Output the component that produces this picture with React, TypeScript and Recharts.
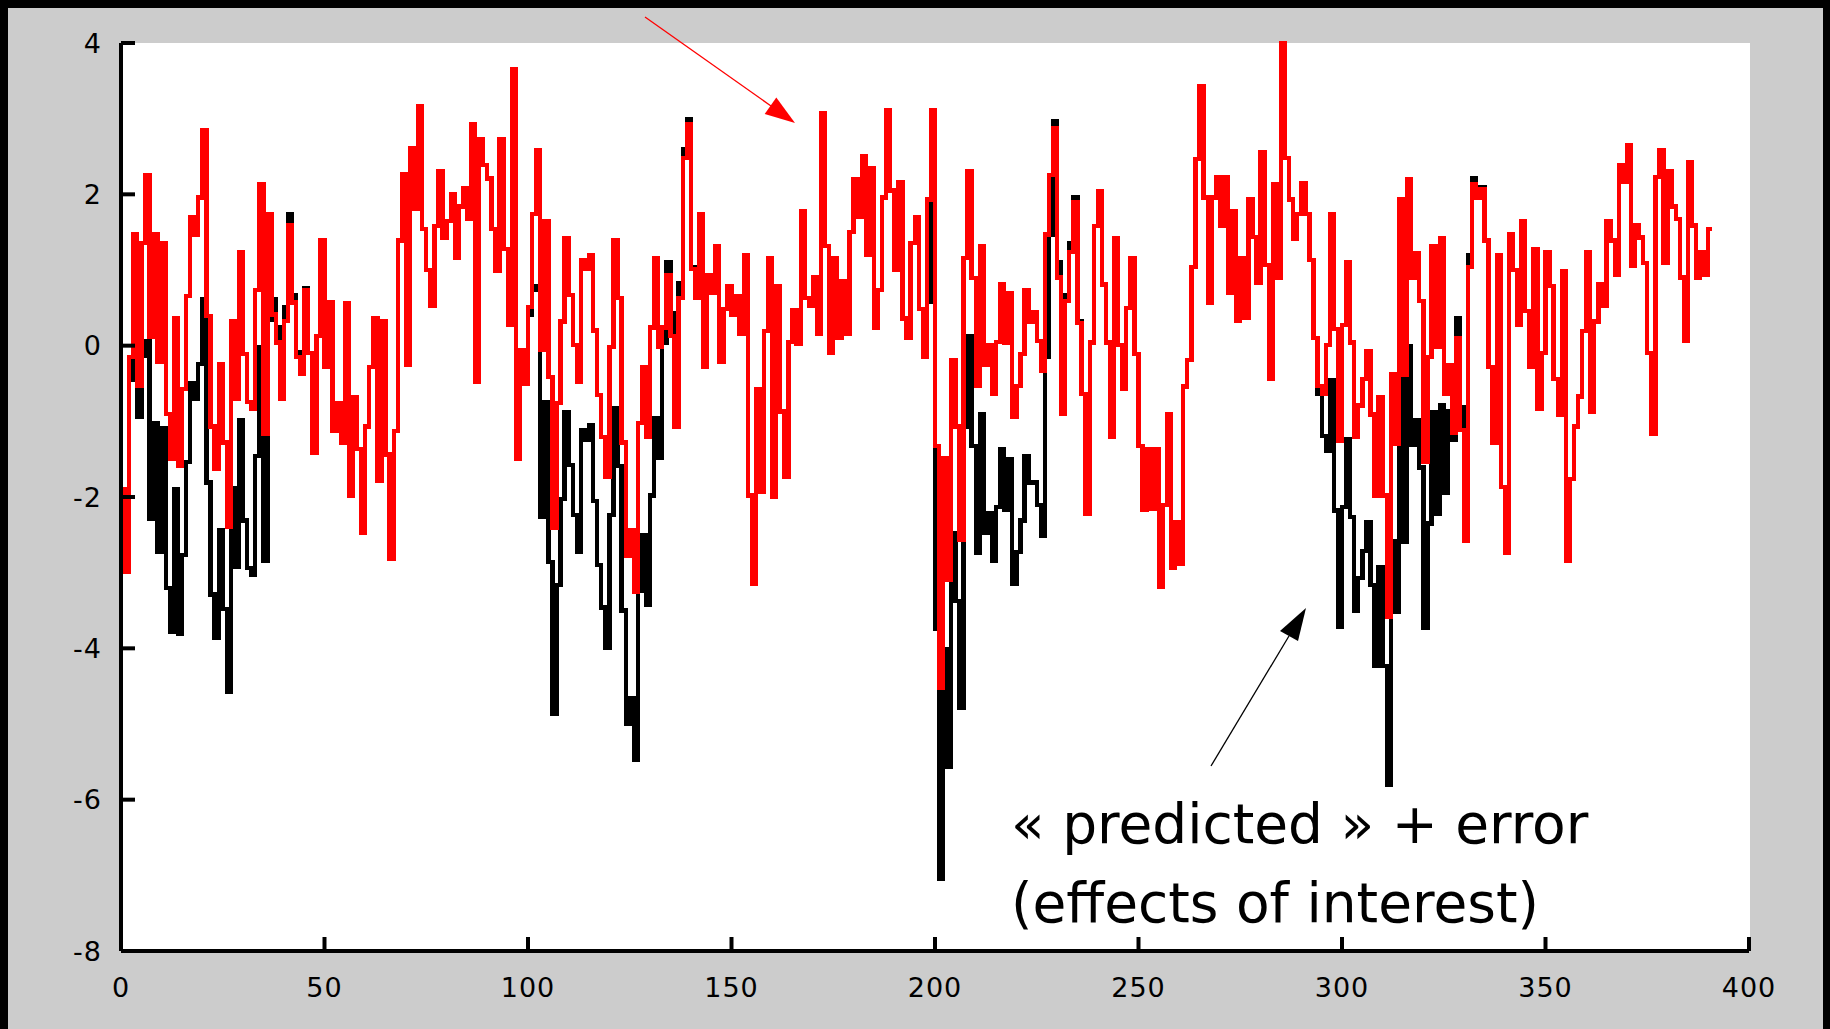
import React from "react";
import { LineChart, Line, XAxis, YAxis } from "recharts";

// Signal after removing effects of no interest (drawn in red), one value per scan.
const fitted: number[] = [
  -0.83, -1.89, -2.99, -0.15, 1.47, -0.53, 1.36, 2.26, 0.11, 1.47,
  -0.22, 1.36, -0.9, -1.5, 0.36, -1.59, -0.57, 0.66, 1.7, 1.47,
  1.96, 2.85, 0.39, -1.07, -1.63, -0.24, -1.28, -2.39, 0.32, -0.7,
  1.24, -0.11, -0.74, -0.83, 0.74, 2.13, -1.17, 1.74, 0.41, 0.04,
  -0.7, 0.33, 1.59, 0.57, -0.15, -0.37, 0.74, -0.1, -1.41, 0.13,
  1.39, -0.28, 0.58, -1.13, -0.76, -1.28, 0.56, -1.98, -0.68, -1.37,
  -2.47, -1.07, -0.28, 0.36, -1.79, 0.32, -1.44, -2.82, -1.13, 1.39,
  2.27, -0.26, 2.61, 1.81, 3.16, 1.54, 1.0, 0.52, 1.58, 2.31,
  1.43, 1.65, 2.0, 1.16, 1.84, 2.08, 1.67, 2.93, -0.48, 2.73,
  2.39, 2.21, 1.54, 0.99, 2.73, 1.28, 0.27, 3.65, -1.49, -0.06,
  -0.5, 0.51, 1.74, 2.59, -0.06, 1.65, -0.41, -2.41, -0.76, 0.32,
  1.42, 0.67, 0.01, -0.48, 1.13, 1.01, 1.2, 0.2, -0.65, -1.21,
  -1.74, -0.02, 1.39, 0.63, -1.28, -2.78, -2.44, -3.26, -1.02, -0.28,
  -1.21, 0.24, 1.16, -0.02, 0.24, 0.93, 0.13, -1.07, 0.63, 2.48,
  2.93, 1.01, 0.63, 1.74, -0.28, 0.93, 0.7, 1.32, -0.22, 0.48,
  0.78, 0.41, 0.66, 0.15, 1.2, -1.98, -3.15, -0.57, -1.93, 0.19,
  1.16, -2.0, 0.78, -0.87, -1.74, 0.05, 0.47, 0.02, 1.78, 0.63,
  0.52, 0.9, 0.16, 3.07, 1.32, -0.1, 1.16, 0.1, 0.85, 0.16,
  1.5, 2.2, 1.7, 2.5, 1.2, 2.35, 0.24, 0.74, 1.96, 3.11,
  2.05, 1.0, 2.16, 0.36, 0.1, 1.36, 1.7, 0.48, -0.15, 1.93,
  3.11, -1.33, -4.52, -1.48, -3.09, -0.19, -1.07, -2.56, 1.16, 2.31,
  0.89, -0.53, 1.32, -0.26, 0.01, -0.64, 0.05, 0.81, 0.04, 0.69,
  -0.94, -0.53, -0.11, 0.74, 0.32, 0.44, 0.06, -0.33, 1.47, 2.26,
  2.87, 0.9, -0.9, 0.59, 1.24, 1.9, 0.3, -0.64, -2.22, 0.04,
  1.58, 2.04, 0.81, 0.04, -1.21, 1.42, 0.01, -0.57, 0.5, 1.16,
  -0.11, -1.33, -2.17, -1.37, -2.15, -1.37, -3.19, -2.11, -0.91, -2.93,
  -2.33, -2.89, -0.54, -0.19, 1.04, 2.47, 3.43, 1.96, 0.57, 1.96,
  2.23, 1.59, 2.23, 0.7, 1.78, 0.33, 1.16, 0.37, 1.93, 1.44,
  0.83, 2.56, 1.07, -0.44, 2.13, 0.9, 4.0, 2.48, 1.93, 1.41,
  1.74, 2.15, 1.74, 1.13, 0.1, -0.53, -0.64, 0.01, 1.74, 0.22,
  -1.26, 0.27, 1.11, 0.04, -1.21, -0.79, -0.44, -0.07, -0.91, -1.98,
  -0.68, -1.98, -3.58, -0.37, -1.3, 1.93, -0.39, 2.2, 0.89, 1.22,
  0.59, -1.53, -0.15, 1.32, -0.02, 1.42, -0.64, -0.26, -1.15, 0.1,
  -1.11, -2.58, 1.04, 2.13, 1.96, 2.07, 1.39, -0.28, -1.28, 1.2,
  -1.87, -2.74, 1.47, 1.0, 0.28, 1.65, 0.46, -0.28, 1.28, -0.83,
  -0.1, 1.24, 0.79, -0.44, -0.91, 0.99, -2.85, -1.76, -1.07, -0.67,
  0.19, 1.24, -0.87, 0.32, 0.81, 0.52, 1.65, 1.39, 0.94, 2.38,
  2.17, 2.65, 1.05, 1.59, 1.43, 1.09, -0.1, -1.17, 2.23, 2.59,
  1.09, 2.31, 1.84, 1.67, 0.9, 0.06, 2.43, 1.59, 0.9, 1.24,
  0.94, 1.54,
];

// Raw signal ("predicted" + error) in the stretches where it departs from the red trace.
const rawStartA = 2;
const rawA: number[] = [
  -2.99, -0.45, 0.97, -0.94, -0.14, 0.06, -2.29, -1.03, -2.72, -1.09,
  -3.2, -3.78, -1.9, -3.81, -2.77, -1.54, -0.5, -0.7, -0.24, 0.61,
  -1.81, -3.29, -3.86, -2.44, -3.48, -4.58, -1.88, -2.92, -0.98, -2.31,
  -2.94, -3.03, -1.46, -0.02, -2.85, 0.34, 0.61, 0.24, -0.5, 0.51,
  1.74, 0.67, -0.09, -0.33, 0.76, -0.1,
];
const rawStartB = 100;
const rawB: number[] = [
  -0.5, 0.41, 0.74, 0.79, -2.26, -0.75, -2.86, -4.86, -3.16, -2.03,
  -0.88, -1.58, -2.24, -2.73, -1.12, -1.24, -1.05, -2.05, -2.9, -3.46,
  -3.99, -2.24, -0.83, -1.59, -3.5, -5.0, -4.66, -5.48, -3.24, -2.5,
  -3.43, -1.98, -0.96, -1.48, 0.04, 1.11, 0.43, -0.77, 0.83, 2.6,
  3.0, 1.04, 0.63,
];
const rawStartC = 197;
const rawC: number[] = [
  0.48, -0.15, 1.93, 0.58, -3.74, -7.05, -4.01, -5.56, -2.48, -3.37,
  -4.78, -1.07, 0.13, -1.33, -2.74, -0.91, -2.48, -2.22, -2.85, -2.13,
  -1.37, -2.17, -1.5, -3.15, -2.73, -2.31, -1.46, -1.81, -1.8, -2.11,
  -2.52, -0.15, 1.46, 2.97, 1.1, -0.75, 0.67, 1.36, 1.96, 0.33,
  -0.64,
];
const rawStartD = 293;
const rawD: number[] = [
  1.13, 0.1, -0.64, -1.19, -1.39, -0.46, -2.18, -3.71, -2.13, -1.24,
  -2.26, -3.51, -3.07, -2.71, -2.33, -3.16, -4.23, -2.93, -4.23, -5.81,
  -2.59, -3.52, -0.27, -2.59, 0.0, -1.31, -0.98, -1.61, -3.73, -2.35,
  -0.88, -2.22, -0.78, -1.94, -0.86, -1.25, 0.36, -0.81, -2.38, 1.2,
  2.22, 2.02, 2.1, 1.39,
];

const xTicks = [0, 50, 100, 150, 200, 250, 300, 350, 400];
const yTicks = [-8, -6, -4, -2, 0, 2, 4];

const rawSegments = [
  { start: rawStartA, values: rawA },
  { start: rawStartB, values: rawB },
  { start: rawStartC, values: rawC },
  { start: rawStartD, values: rawD },
];

const rows = fitted.map((v, i) => {
  let raw: number | null = null;
  for (const seg of rawSegments) {
    const j = i - seg.start;
    if (j >= 0 && j < seg.values.length) raw = seg.values[j];
  }
  return { x: i, red: v, black: raw };
});

const W = 1830;
const H = 1029;
const PLOT_LEFT = 121;
const PLOT_TOP = 43;
const PLOT_RIGHT = 1749;
const PLOT_BOTTOM = 951;

const tickFont = {
  fontFamily: "'DejaVu Sans', sans-serif",
  fontSize: 27,
  fill: "#000",
};

const Y_MARGIN = 19;
const X_MARGIN = 36;

const YTick = (props: any) => {
  const { x, y, payload } = props;
  return (
    <g>
      <line x1={x + Y_MARGIN} x2={x + Y_MARGIN + 14} y1={y} y2={y} stroke="#000" strokeWidth={4} />
      <text x={x} y={y} textAnchor="end" dominantBaseline="central" letterSpacing={1} {...tickFont}>
        {String(payload.value)}
      </text>
    </g>
  );
};

const XTick = (props: any) => {
  const { x, y, payload } = props;
  return (
    <g>
      <line x1={x} x2={x} y1={y - X_MARGIN} y2={y - X_MARGIN - 14} stroke="#000" strokeWidth={4} />
      <text x={x} y={y} textAnchor="middle" dominantBaseline="central" letterSpacing={1} {...tickFont}>
        {String(payload.value)}
      </text>
    </g>
  );
};

const noteFont = "'DejaVu Sans', sans-serif";

export default function App() {
  return (
    <div
      style={{
        position: "absolute",
        left: 0,
        top: 0,
        width: W,
        height: H,
        background: "#cccccc",
        overflow: "hidden",
      }}
    >
      <style>{`.recharts-line-curve { shape-rendering: crispEdges; }`}</style>
      <div style={{ position: "absolute", left: 0, top: 0, width: 8, height: H, background: "#000" }} />
      <div style={{ position: "absolute", left: 0, top: 0, width: W, height: 8, background: "#000" }} />
      <div style={{ position: "absolute", left: W - 7, top: 0, width: 7, height: H, background: "#000" }} />
      <div
        style={{
          position: "absolute",
          left: PLOT_LEFT,
          top: PLOT_TOP,
          width: PLOT_RIGHT - PLOT_LEFT + 1,
          height: PLOT_BOTTOM - PLOT_TOP,
          background: "#ffffff",
        }}
      />
      <div style={{ position: "absolute", left: 0, top: 0 }}>
        <LineChart
          width={W}
          height={H}
          data={rows}
          margin={{ top: PLOT_TOP, right: W - PLOT_RIGHT, bottom: 0, left: 0 }}
        >
          <XAxis
            dataKey="x"
            type="number"
            domain={[0, 400]}
            ticks={xTicks}
            interval={0}
            height={H - PLOT_BOTTOM}
            tickSize={0}
            tickMargin={X_MARGIN}
            axisLine={{ stroke: "#000", strokeWidth: 4 }}
            tick={<XTick />}
          />
          <YAxis
            type="number"
            domain={[-8, 4]}
            ticks={yTicks}
            interval={0}
            width={PLOT_LEFT}
            tickSize={0}
            tickMargin={Y_MARGIN}
            axisLine={{ stroke: "#000", strokeWidth: 4 }}
            tick={<YTick />}
          />
          <Line
            dataKey="black"
            type="stepBefore"
            stroke="#000000"
            strokeWidth={4.3}
            dot={false}
            activeDot={false}
            connectNulls={false}
            isAnimationActive={false}
          />
          <Line
            dataKey="red"
            type="stepBefore"
            stroke="#ff0000"
            strokeWidth={4.3}
            dot={false}
            activeDot={false}
            isAnimationActive={false}
          />
        </LineChart>
      </div>
      <svg
        width={W}
        height={H}
        style={{ position: "absolute", left: 0, top: 0, pointerEvents: "none" }}
      >
        <line x1={645} y1={17} x2={771} y2={106} stroke="#ff0000" strokeWidth={1.3} />
        <polygon points="795,123 764.7,113.9 776.3,97.5" fill="#ff0000" />
        <line x1={1211} y1={766} x2={1289} y2={636} stroke="#000" strokeWidth={1.3} />
        <polygon points="1306,608 1280,631 1298,641" fill="#000" />
        <text x={1011} y={843} fontFamily={noteFont} fontSize={55} fill="#000">
          « predicted » + error
        </text>
        <text x={1011} y={922} fontFamily={noteFont} fontSize={55} fill="#000">
          (effects of interest)
        </text>
      </svg>
    </div>
  );
}
